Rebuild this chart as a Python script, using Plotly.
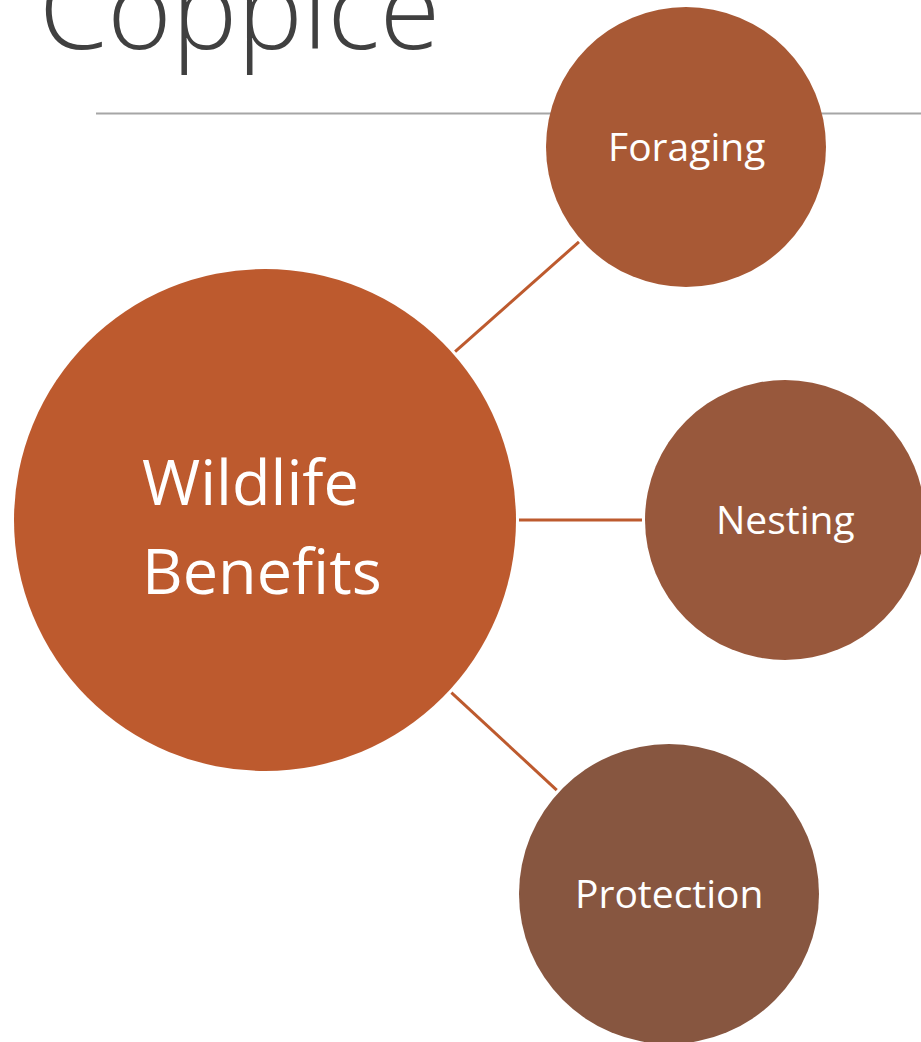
import plotly.graph_objects as go
import math

W, H = 921, 1042

# Diagram data
title_text = "Coppice"
hub_label_lines = ["Wildlife", "Benefits"]
node_labels = ["Foraging", "Nesting", "Protection"]
node_x = [686, 785, 669]
node_y = [147, 520, 894]
node_r = [140, 140, 150]
node_colors = ["#A85935", "#98583C", "#875640"]
hub_x, hub_y, hub_r = 265, 520, 251
hub_color = "#BD5A2E"
link_color = "#BD5A2E"

fig = go.Figure()
shapes = []
annotations = []

# rule under title
shapes.append(dict(type="line", x0=96, x1=W, y0=113.5, y1=113.5,
                   line=dict(color="#A6A6A6", width=2), layer="below"))

# connectors
for cx, cy, r in zip(node_x, node_y, node_r):
    dx, dy = cx - hub_x, cy - hub_y
    d = math.hypot(dx, dy)
    s0 = hub_r + 3
    s1 = d - r - 3
    shapes.append(dict(type="line",
                       x0=hub_x + dx * s0 / d, y0=hub_y + dy * s0 / d,
                       x1=hub_x + dx * s1 / d, y1=hub_y + dy * s1 / d,
                       line=dict(color=link_color, width=3)))

# hub circle
shapes.append(dict(type="circle", x0=hub_x - hub_r, x1=hub_x + hub_r,
                   y0=hub_y - hub_r, y1=hub_y + hub_r,
                   fillcolor=hub_color, line=dict(width=0)))
# child circles
for cx, cy, r, c in zip(node_x, node_y, node_r, node_colors):
    shapes.append(dict(type="circle", x0=cx - r, x1=cx + r, y0=cy - r, y1=cy + r,
                       fillcolor=c, line=dict(width=0)))

font_family = "Open Sans, Noto Sans, sans-serif"

# hub text (left aligned block)
for i, line in enumerate(hub_label_lines):
    annotations.append(dict(x=140, y=hub_y - 40 + i * 89, text=line, showarrow=False,
                            xanchor="left", yanchor="middle",
                            font=dict(family=font_family, size=63, color="white")))
# child texts
for cx, cy, lbl in zip(node_x, node_y, node_labels):
    annotations.append(dict(x=cx, y=cy - 2, text=lbl, showarrow=False,
                            xanchor="center", yanchor="middle",
                            font=dict(family=font_family, size=39, color="white")))

# title (cut off at top, as in the reference)
annotations.append(dict(x=37, y=6, text=title_text, showarrow=False,
                        xanchor="left", yanchor="middle",
                        font=dict(family=font_family, size=110, color="#404040", weight=300)))

fig.update_layout(
    width=W, height=H,
    margin=dict(l=0, r=0, t=0, b=0),
    paper_bgcolor="white", plot_bgcolor="white",
    xaxis=dict(range=[0, W], visible=False, fixedrange=True),
    yaxis=dict(range=[H, 0], visible=False, fixedrange=True),
    shapes=shapes, annotations=annotations, showlegend=False,
)
fig.write_html("out.html",
               post_script="document.body.style.margin='0';document.body.style.overflow='hidden';",
               config={"displayModeBar": False})
